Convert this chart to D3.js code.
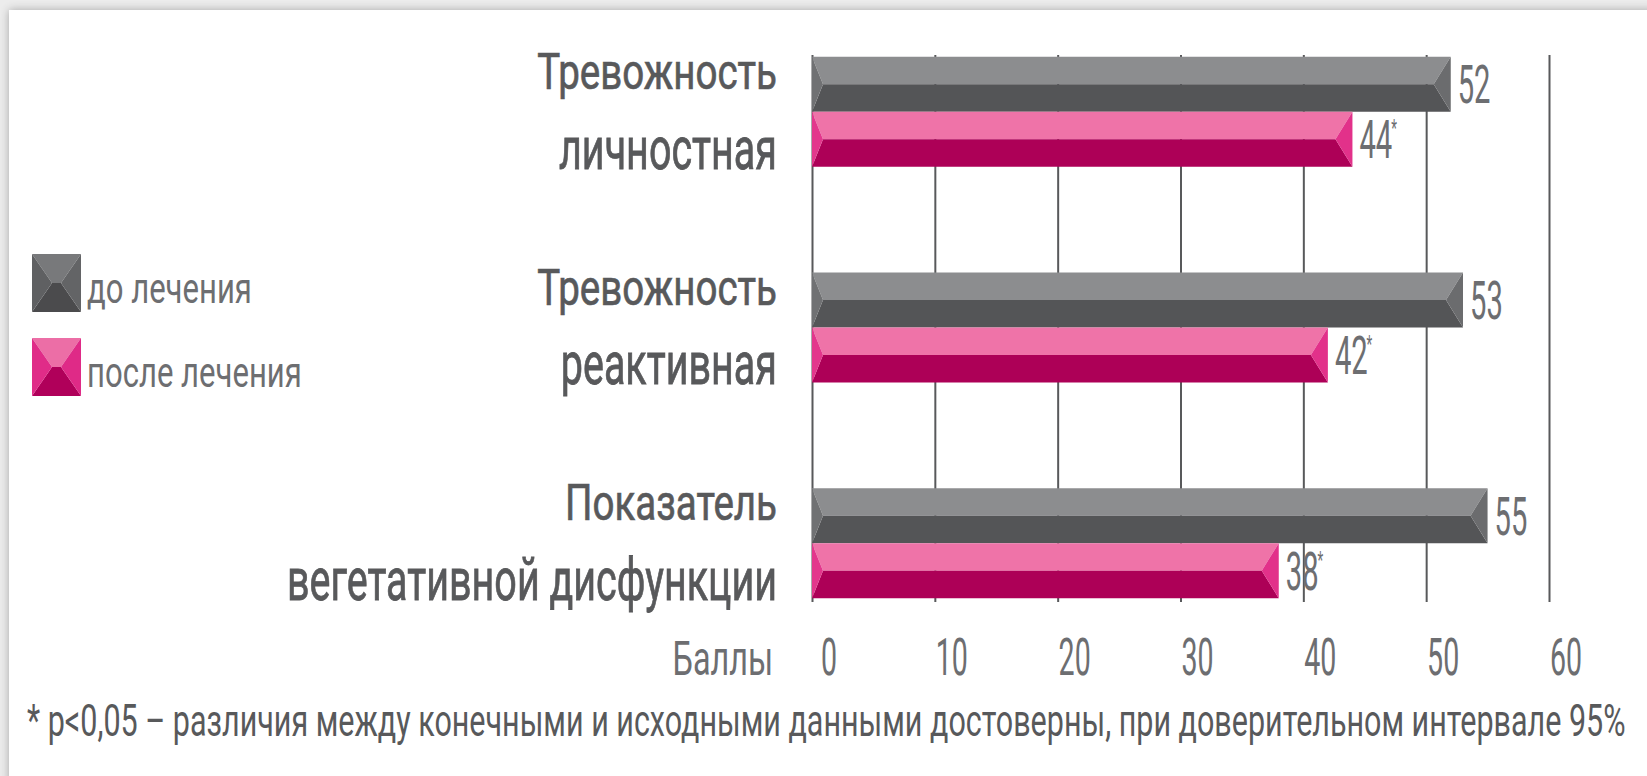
<!DOCTYPE html>
<html><head><meta charset="utf-8">
<script src="https://cdn.jsdelivr.net/npm/d3@7"></script>
<style>html,body{margin:0;padding:0;background:#fff;overflow:hidden}</style>
</head><body><svg id="chart" width="1647" height="776"></svg>
<script>
// ---- data ----
const categories = ["Тревожность|личностная", "Тревожность|реактивная", "Показатель|вегетативной дисфункции"];
const seriesNames = ["до лечения", "после лечения"];
const beforeValues = [52, 53, 55];
const afterValues = [44, 42, 38];
const afterMarks = ["*", "*", "*"];
const xTickValues = [0, 10, 20, 30, 40, 50, 60];
const axisTitle = "Баллы";
const footnote = "* p<0,05 – различия между конечными и исходными данными достоверны, при доверительном интервале 95%";

// ---- styles ----
const palette = {
  "до лечения":   {top: "#8c8d8f", bottom: "#545557", left: "#707173", right: "#6b6c6e",
                   lTop: "#78797b", lBottom: "#4b4b4d", lLeft: "#5f6062", lRight: "#636466"},
  "после лечения": {top: "#ef73a8", bottom: "#ad0057", left: "#e3378c", right: "#e2318a",
                   lTop: "#ec6ea6", lBottom: "#b0005a", lLeft: "#e02c88", lRight: "#df2a87"}
};
const FONT = "Roboto, 'Liberation Sans', sans-serif";
const textDark = "#58595b", textGrey = "#6d6e71";

const svg = d3.select("#chart");
const W = 1647, H = 776;

// background + panel with soft shadow
const defs = svg.append("defs");
const f = defs.append("filter").attr("id", "sh").attr("x", -0.05).attr("y", -0.05).attr("width", 1.1).attr("height", 1.1);
f.append("feGaussianBlur").attr("in", "SourceAlpha").attr("stdDeviation", 5).attr("result", "b");
f.append("feComponentTransfer").attr("in", "b").attr("result", "o2")
  .append("feFuncA").attr("type", "linear").attr("slope", 0.3);
const fm = f.append("feMerge"); fm.append("feMergeNode").attr("in", "o2"); fm.append("feMergeNode").attr("in", "SourceGraphic");
svg.append("rect").attr("width", W).attr("height", H).attr("fill", "#ececec");
svg.append("rect").attr("x", 9).attr("y", 10).attr("width", W).attr("height", H).attr("fill", "#fff").attr("filter", "url(#sh)");

// scales
const x = d3.scaleLinear().domain([0, 60]).range([812, 1549]);
const y = d3.scaleBand().domain(categories).range([4, 651]).paddingInner(0.49).paddingOuter(0.245);
const ySub = d3.scaleBand().domain(seriesNames).range([0, y.bandwidth()]);

// scaled text helper
function stext(parent, px, py, str, o) {
  const g = parent.append("g").attr("transform", `translate(${px},${py}) scale(${o.sx},${o.sy || 1})`);
  const t = g.append("text").attr("x", 0).attr("y", 0)
    .attr("text-anchor", o.anchor || "start")
    .attr("font-family", FONT).attr("font-size", o.size)
    .attr("font-weight", o.weight || 400)
    .attr("fill", o.fill).text(str);
  if (o.stroke) t.attr("stroke", o.fill).attr("stroke-width", o.stroke);
  return t;
}

// grid lines via axis
const gridG = svg.append("g").attr("transform", "translate(0,602)");
gridG.call(d3.axisTop(x).tickValues(xTickValues).tickSize(547).tickFormat(""))
  .call(g => g.select(".domain").remove())
  .call(g => g.selectAll(".tick line").attr("stroke", "#58595b").attr("stroke-width", 2));

// bars
const rows = [];
categories.forEach((c, i) => {
  rows.push({cat: c, series: seriesNames[0], value: beforeValues[i], mark: ""});
  rows.push({cat: c, series: seriesNames[1], value: afterValues[i], mark: afterMarks[i]});
});
const BL = 11, BR = 17;
const barG = svg.append("g");
rows.forEach(r => {
  const x0 = x(0), x1 = x(r.value);
  const t = y(r.cat) + ySub(r.series), h = ySub.bandwidth(), m = t + h / 2, b = t + h;
  const p = palette[r.series];
  const poly = (pts, fill) => barG.append("polygon").attr("points", pts.map(d => d.join(",")).join(" ")).attr("fill", fill);
  poly([[x0, t], [x1, t], [x1 - BR, m], [x0 + BL, m]], p.top);
  poly([[x0 + BL, m], [x1 - BR, m], [x1, b], [x0, b]], p.bottom);
  poly([[x0, t], [x0 + BL, m], [x0, b]], p.left);
  poly([[x1, t], [x1 - BR, m], [x1, b]], p.right);
  // value label
  const t2 = stext(svg, x1 + 7, m + 19, r.value, {size: 53, sx: 0.55, fill: textGrey});
  if (r.mark) t2.append("tspan").attr("font-size", 24).attr("dx", -2).attr("dy", -22).text(r.mark);
});

// category labels
categories.forEach(c => {
  const [l1, l2] = c.split("|");
  const top = y(c), bot = y(c) + y.bandwidth();
  stext(svg, 777, top + 32, l1, {size: 50, sx: 0.77, fill: textDark, anchor: "end", stroke: 0.7});
  stext(svg, 777, bot + 2, l2, {size: 50, sx: 0.79, sy: 1.2, fill: textDark, anchor: "end", stroke: 0.7});
});

// x tick labels
xTickValues.forEach(v => {
  stext(svg, x(v) + 17, 675, v, {size: 51, sx: 0.56, fill: textGrey, anchor: "middle"});
});
stext(svg, 773, 675, axisTitle, {size: 49, sx: 0.66, fill: textGrey, anchor: "end"});

// legend
const leg = svg.append("g");
seriesNames.forEach((s, i) => {
  const lx = 32, ly = 254 + i * 84, w = 49, h = 58, bb = 20;
  const p = palette[s];
  const poly = (pts, fill) => leg.append("polygon").attr("points", pts.map(d => [lx + d[0], ly + d[1]].join(",")).join(" ")).attr("fill", fill);
  poly([[0, 0], [w, 0], [w - bb, h / 2], [bb, h / 2]], p.lTop);
  poly([[bb, h / 2], [w - bb, h / 2], [w, h], [0, h]], p.lBottom);
  poly([[0, 0], [bb, h / 2], [0, h]], p.lLeft);
  poly([[w, 0], [w - bb, h / 2], [w, h]], p.lRight);
  stext(svg, 87, ly + 49, s, {size: 42, sx: 0.74, fill: textGrey});
});

// footnote, fitted to panel width
const fn = stext(svg, 27, 736, footnote, {size: 44, sx: 1, fill: textDark});
const nat = fn.node().getComputedTextLength();
d3.select(fn.node().parentNode).attr("transform", `translate(27,736) scale(${1599 / nat},1)`);
</script>
</body></html>
